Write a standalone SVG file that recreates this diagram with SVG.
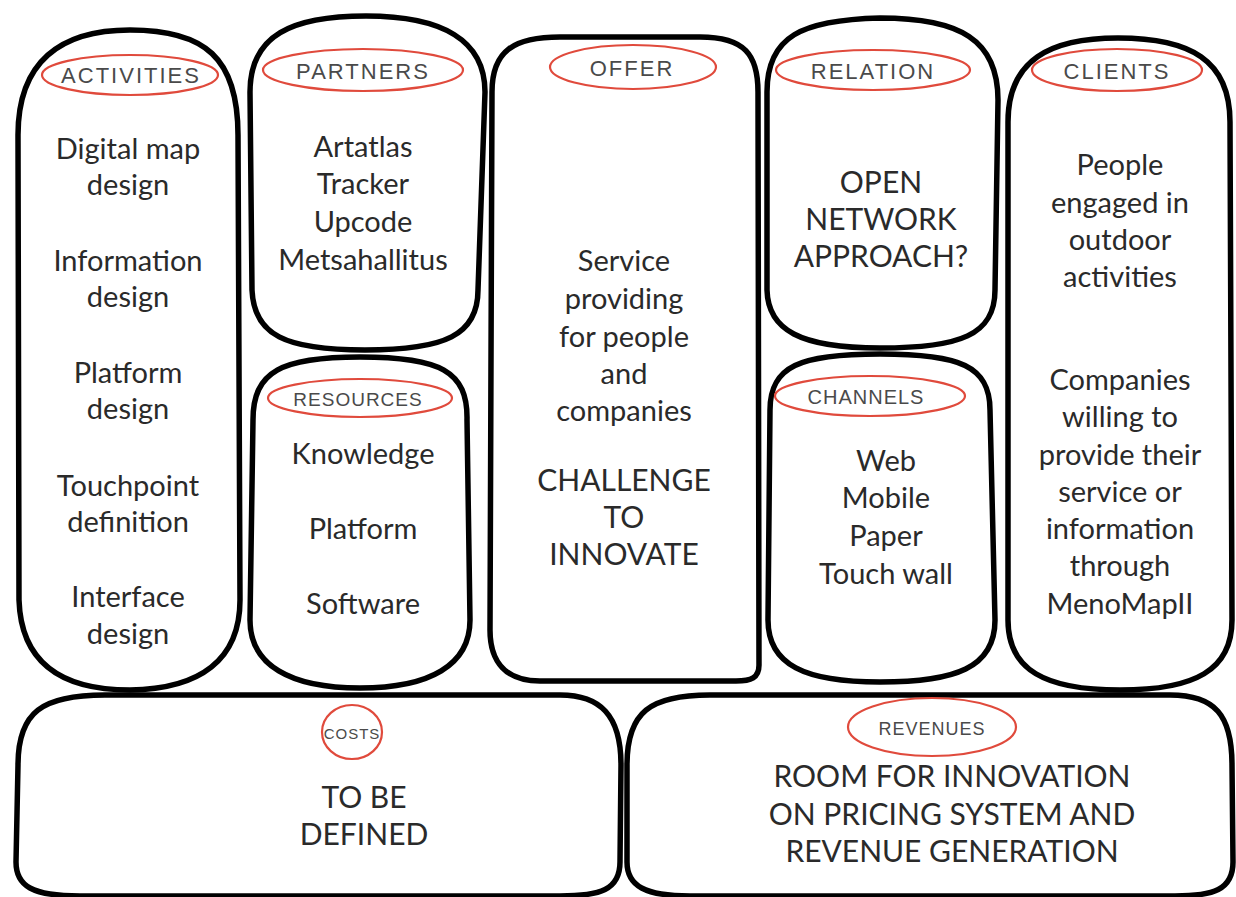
<svg xmlns="http://www.w3.org/2000/svg" width="1236" height="897" viewBox="0 0 1236 897">
<defs>
<style>
.box{fill:#fff;stroke:#000;stroke-width:5.5;stroke-linejoin:round}
.lbl{fill:none;stroke:#e04a3c;stroke-width:2.2}
.lt{font-family:"Liberation Sans",Arial,sans-serif;font-size:22px;fill:#4a4a4a;text-anchor:middle;letter-spacing:2px}
.tx{font-family:Lato,"Liberation Sans",sans-serif;font-size:29px;fill:#2a2a2a;text-anchor:middle}
.cp{font-size:30px}
</style>
</defs>
<rect width="1236" height="897" fill="#fff"/>
<g id="costs">
<path class="box" d="M18,765 C18,712 42,695 105,695 L560,695 C600,695 621,715 621,765 L620,862 C620,890 600,896 560,896 L80,896 C32,896 16,886 16,862 Z"/>
<ellipse class="lbl" cx="352" cy="732" rx="30" ry="27"/>
<text class="lt" x="352" y="739" style="font-size:15px;letter-spacing:1px">COSTS</text>
<text class="tx cp" x="364" y="808">TO BE</text>
<text class="tx cp" x="364" y="845">DEFINED</text>
</g>
<g id="revenues">
<path class="box" d="M627,765 C627,712 650,695 710,695 L1170,695 C1215,695 1232,715 1232,765 L1233,862 C1233,890 1213,896 1175,896 L690,896 C645,896 627,886 627,862 Z"/>
<ellipse class="lbl" cx="932" cy="727" rx="84" ry="29"/>
<text class="lt" x="932" y="735" style="font-size:18px;letter-spacing:1px">REVENUES</text>
<text class="tx cp" x="952" y="787">ROOM FOR INNOVATION</text>
<text class="tx cp" x="952" y="825">ON PRICING SYSTEM AND</text>
<text class="tx cp" x="952" y="862">REVENUE GENERATION</text>
</g>
<g id="activities">
<path class="box" d="M18,135 C18,62 60,30 130,30 C205,30 238,58 238,135 L240,600 C240,660 200,689 130,690 C60,690 21,662 19,600 Z"/>
<ellipse class="lbl" cx="130" cy="75" rx="88" ry="20"/>
<text class="lt" x="131" y="83">ACTIVITIES</text>
<text class="tx" x="128" y="159">Digital map</text>
<text class="tx" x="128" y="195">design</text>
<text class="tx" x="128" y="271">Information</text>
<text class="tx" x="128" y="307">design</text>
<text class="tx" x="128" y="383">Platform</text>
<text class="tx" x="128" y="419">design</text>
<text class="tx" x="128" y="496">Touchpoint</text>
<text class="tx" x="128" y="532">definition</text>
<text class="tx" x="128" y="607">Interface</text>
<text class="tx" x="128" y="644">design</text>
</g>
<g id="partners">
<path class="box" d="M250,92 C250,35 292,16 366,16 C442,16 485,40 485,92 L478,290 C478,335 445,350 365,350 C285,350 254,335 252,290 Z"/>
<ellipse class="lbl" cx="363" cy="70" rx="100" ry="21"/>
<text class="lt" x="363" y="79">PARTNERS</text>
<text class="tx" x="363" y="157">Artatlas</text>
<text class="tx" x="363" y="194">Tracker</text>
<text class="tx" x="363" y="232">Upcode</text>
<text class="tx" x="363" y="270">Metsahallitus</text>
</g>
<g id="resources">
<path class="box" d="M253,420 C253,371 282,357 360,357 C440,357 468,371 467,420 L470,620 C470,665 430,688 360,688 C290,688 250,665 250,620 Z"/>
<ellipse class="lbl" cx="360" cy="398" rx="92" ry="19"/>
<text class="lt" x="358" y="406" style="font-size:19px;letter-spacing:1px">RESOURCES</text>
<text class="tx" x="363" y="464">Knowledge</text>
<text class="tx" x="363" y="539">Platform</text>
<text class="tx" x="363" y="614">Software</text>
</g>
<g id="offer">
<path class="box" d="M492,92 C492,50 515,37 560,37 L700,37 C745,37 758,55 758,92 L759,665 C759,678 751,681 736,681 L540,681 C506,681 490,662 490,630 Z"/>
<ellipse class="lbl" cx="633" cy="67" rx="83" ry="22"/>
<text class="lt" x="632" y="76">OFFER</text>
<text class="tx" x="624" y="271">Service</text>
<text class="tx" x="624" y="309">providing</text>
<text class="tx" x="624" y="347">for people</text>
<text class="tx" x="624" y="384">and</text>
<text class="tx" x="624" y="421">companies</text>
<text class="tx cp" x="624" y="491">CHALLENGE</text>
<text class="tx cp" x="624" y="528">TO</text>
<text class="tx cp" x="624" y="565">INNOVATE</text>
</g>
<g id="relation">
<path class="box" d="M767,92 C767,36 802,20 880,18 C960,18 998,40 998,100 L995,290 C995,335 960,348 880,348 C800,348 768,330 767,290 Z"/>
<ellipse class="lbl" cx="873" cy="70" rx="97" ry="20"/>
<text class="lt" x="873" y="79">RELATION</text>
<text class="tx cp" x="881" y="193">OPEN</text>
<text class="tx cp" x="881" y="230">NETWORK</text>
<text class="tx cp" x="881" y="267">APPROACH?</text>
</g>
<g id="channels">
<path class="box" d="M770,410 C770,366 800,354 880,354 C960,354 990,366 990,410 L995,620 C995,668 955,682 880,682 C805,682 768,665 768,620 Z"/>
<ellipse class="lbl" cx="870" cy="396" rx="95" ry="20"/>
<text class="lt" x="866" y="404" style="font-size:20px;letter-spacing:1px">CHANNELS</text>
<text class="tx" x="886" y="471">Web</text>
<text class="tx" x="886" y="508">Mobile</text>
<text class="tx" x="886" y="546">Paper</text>
<text class="tx" x="886" y="584">Touch wall</text>
</g>
<g id="clients">
<path class="box" d="M1008,122 C1008,60 1050,38 1118,38 C1190,38 1230,60 1230,122 L1232,620 C1232,670 1195,690 1120,690 C1045,690 1008,670 1008,620 Z"/>
<ellipse class="lbl" cx="1117" cy="70" rx="85" ry="21"/>
<text class="lt" x="1117" y="79">CLIENTS</text>
<text class="tx" x="1120" y="175">People</text>
<text class="tx" x="1120" y="213">engaged in</text>
<text class="tx" x="1120" y="250">outdoor</text>
<text class="tx" x="1120" y="287">activities</text>
<text class="tx" x="1120" y="390">Companies</text>
<text class="tx" x="1120" y="427">willing to</text>
<text class="tx" x="1120" y="465">provide their</text>
<text class="tx" x="1120" y="502">service or</text>
<text class="tx" x="1120" y="539">information</text>
<text class="tx" x="1120" y="576">through</text>
<text class="tx" x="1120" y="614">MenoMapII</text>
</g>
<g id="connectors"></g>
</svg>
